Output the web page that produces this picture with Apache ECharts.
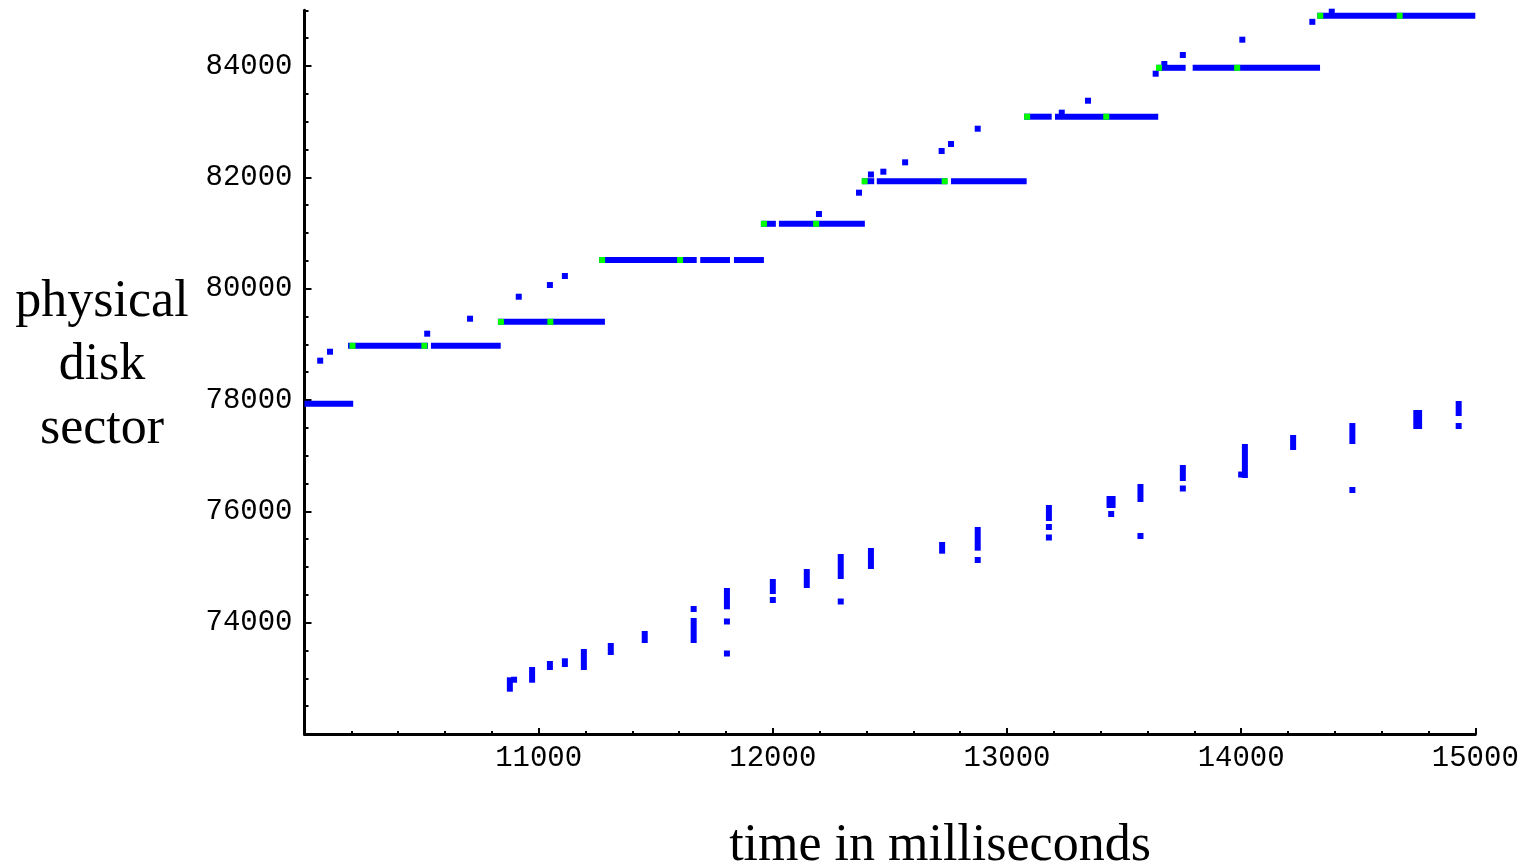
<!DOCTYPE html>
<html>
<head>
<meta charset="utf-8">
<script src="https://cdn.jsdelivr.net/npm/echarts@6/dist/echarts.min.js"></script>
<style>
html,body{margin:0;padding:0;background:#fff;}
#chart{width:1524px;height:864px;}
</style>
</head>
<body>
<div id="chart"></div>
<script>
// ---- axis ticks / labels ----
const xMajorTicks = [11000, 12000, 13000, 14000, 15000];
const yMajorTicks = [74000, 76000, 78000, 80000, 82000, 84000];
const yMinorStep = 500;

// ---- titles ----
const yTitleLines = ['physical', 'disk', 'sector'];
const xTitle = 'time in milliseconds';

// ---- upper staircase: horizontal runs [startMs, endMs, sector] ----
const runs = [
  [10000, 10208, 77933],
  [10186, 10527, 78973], [10540, 10838, 78973],
  [10826, 11283, 79404],
  [11258, 11675, 80514], [11690, 11817, 80514], [11834, 11962, 80514],
  [11949, 12013, 81165], [12026, 12393, 81165],
  [12381, 12433, 81930], [12444, 12745, 81930], [12761, 13084, 81930],
  [13073, 13191, 83089], [13205, 13646, 83089],
  [13637, 13763, 83967], [13793, 14337, 83967],
  [14325, 15000, 84901]
];

// ---- green marks on the runs [ms, sector] ----
const greenMarks = [
  [10205, 78973], [10512, 78973],
  [10839, 79404], [11050, 79404],
  [11271, 80514], [11604, 80514],
  [11962, 81165], [12185, 81165],
  [12392, 81930], [12734, 81930],
  [13086, 83089], [13424, 83089],
  [13649, 83967], [13983, 83967],
  [14338, 84901], [14677, 84901]
];

// ---- single blue requests [ms, sector] ----
const upperDots = [
  [10067, 78706], [10109, 78867], [10524, 79191], [10707, 79460],
  [10915, 79855], [11048, 80065], [11112, 80227], [12197, 81341],
  [12368, 81724], [12419, 82050], [12472, 82101], [12565, 82269],
  [12721, 82473], [12761, 82598], [12875, 82873], [13234, 83161],
  [13346, 83376], [13635, 83861], [13672, 84035], [13751, 84197],
  [14005, 84472], [14304, 84793], [14387, 84975]
];
const lowerDots = [
  [10895, 72975], [11662, 74245], [11804, 74021], [11804, 73446],
  [12000, 74407], [12290, 74380], [12875, 75126], [13179, 75718],
  [13179, 75530], [13445, 75952], [13570, 75557], [13751, 76410],
  [14000, 76661], [14475, 76383], [14929, 77533]
];

// ---- lower cluster: vertical runs [ms, lowSector, highSector] ----
const columns = [
  [10877, 72760, 73018], [10972, 72921, 73203], [11048, 73150, 73311],
  [11112, 73204, 73360], [11193, 73150, 73527], [11308, 73419, 73635],
  [11453, 73635, 73850], [11662, 73635, 74084], [11804, 74240, 74623],
  [12000, 74515, 74784], [12145, 74623, 74964], [12290, 74784, 75233],
  [12419, 74964, 75341], [12723, 75239, 75449], [12875, 75293, 75718],
  [13179, 75826, 76114], [13438, 76060, 76275], [13451, 76060, 76275],
  [13570, 76168, 76491], [13751, 76545, 76832], [14016, 76599, 77209],
  [14222, 77102, 77371], [14475, 77209, 77586], [14748, 77479, 77820],
  [14760, 77479, 77820], [14929, 77712, 77982]
];

const BLUE = '#0000ff';
const GREEN = '#00ff00';
const MARK = 6;

const yMinorTicks = [];
for (let v = 72000 + yMinorStep; v <= 85000; v += yMinorStep) {
  if (yMajorTicks.indexOf(v) < 0) yMinorTicks.push(v);
}

const labelFont = {
  fontFamily: 'Liberation Mono',
  fontSize: 29,
  fontWeight: 'normal',
  color: '#000'
};

const chart = echarts.init(document.getElementById('chart'), null, {renderer: 'canvas'});

const titleFont = '52px "Liberation Serif"';
const graphics = yTitleLines.map((t, i) => ({
  type: 'text',
  x: 102,
  y: 302 + i * 63.5,
  style: {text: t, font: titleFont, fill: '#000', textAlign: 'center', textVerticalAlign: 'middle'}
}));
graphics.push({
  type: 'text',
  x: 940,
  y: 846,
  style: {text: xTitle, font: titleFont, fill: '#000', textAlign: 'center', textVerticalAlign: 'middle'}
});

chart.setOption({
  animation: false,
  backgroundColor: '#fff',
  grid: {left: 304.5, right: 48.7, top: 10.3, bottom: 130, containLabel: false},
  xAxis: [{
    type: 'value', min: 10000, max: 15000, interval: 1000,
    axisLine: {show: true, lineStyle: {color: '#000', width: 3}},
    axisTick: {show: true, inside: true, length: 6, lineStyle: {color: '#000', width: 2}},
    minorTick: {show: true, splitNumber: 5, length: 3, lineStyle: {color: '#000', width: 2}},
    axisLabel: Object.assign({
      margin: 10,
      customValues: xMajorTicks,
      formatter: v => String(v)
    }, labelFont),
    splitLine: {show: false},
    minorSplitLine: {show: false}
  }],
  yAxis: [{
    type: 'value', min: 72000, max: 85000, interval: 2000, position: 'left',
    axisLine: {show: true, lineStyle: {color: '#000', width: 3}},
    axisTick: {show: true, inside: true, length: 7, customValues: yMajorTicks, lineStyle: {color: '#000', width: 2}},
    axisLabel: Object.assign({
      margin: 12,
      customValues: yMajorTicks,
      formatter: v => String(v)
    }, labelFont),
    splitLine: {show: false}
  }, {
    type: 'value', min: 72000, max: 85000, interval: yMinorStep, position: 'left',
    axisLine: {show: false},
    axisTick: {show: true, inside: true, length: 4, customValues: yMinorTicks, lineStyle: {color: '#000', width: 2}},
    axisLabel: {show: false},
    splitLine: {show: false}
  }],
  graphic: graphics,
  series: [
    {
      type: 'custom',
      name: 'runs',
      xAxisIndex: 0, yAxisIndex: 0,
      data: runs,
      encode: {x: [0, 1], y: 2},
      renderItem: (params, api) => {
        const p1 = api.coord([api.value(0), api.value(2)]);
        const p2 = api.coord([api.value(1), api.value(2)]);
        return {type: 'rect', shape: {x: p1[0], y: p1[1] - MARK / 2, width: p2[0] - p1[0], height: MARK}, style: {fill: BLUE}};
      },
      z: 2
    },
    {
      type: 'custom',
      name: 'columns',
      xAxisIndex: 0, yAxisIndex: 0,
      data: columns,
      encode: {x: 0, y: [1, 2]},
      renderItem: (params, api) => {
        const pLow = api.coord([api.value(0), api.value(1)]);
        const pHigh = api.coord([api.value(0), api.value(2)]);
        return {type: 'rect', shape: {x: pLow[0] - MARK / 2, y: pHigh[1], width: MARK, height: pLow[1] - pHigh[1]}, style: {fill: BLUE}};
      },
      z: 2
    },
    {
      type: 'scatter', name: 'upper', symbol: 'rect', symbolSize: MARK,
      data: upperDots, itemStyle: {color: BLUE, opacity: 1}, z: 3
    },
    {
      type: 'scatter', name: 'lower', symbol: 'rect', symbolSize: MARK,
      data: lowerDots, itemStyle: {color: BLUE, opacity: 1}, z: 3
    },
    {
      type: 'scatter', name: 'green', symbol: 'rect', symbolSize: MARK,
      data: greenMarks, itemStyle: {color: GREEN, opacity: 1}, z: 4
    }
  ]
});
</script>
</body>
</html>
